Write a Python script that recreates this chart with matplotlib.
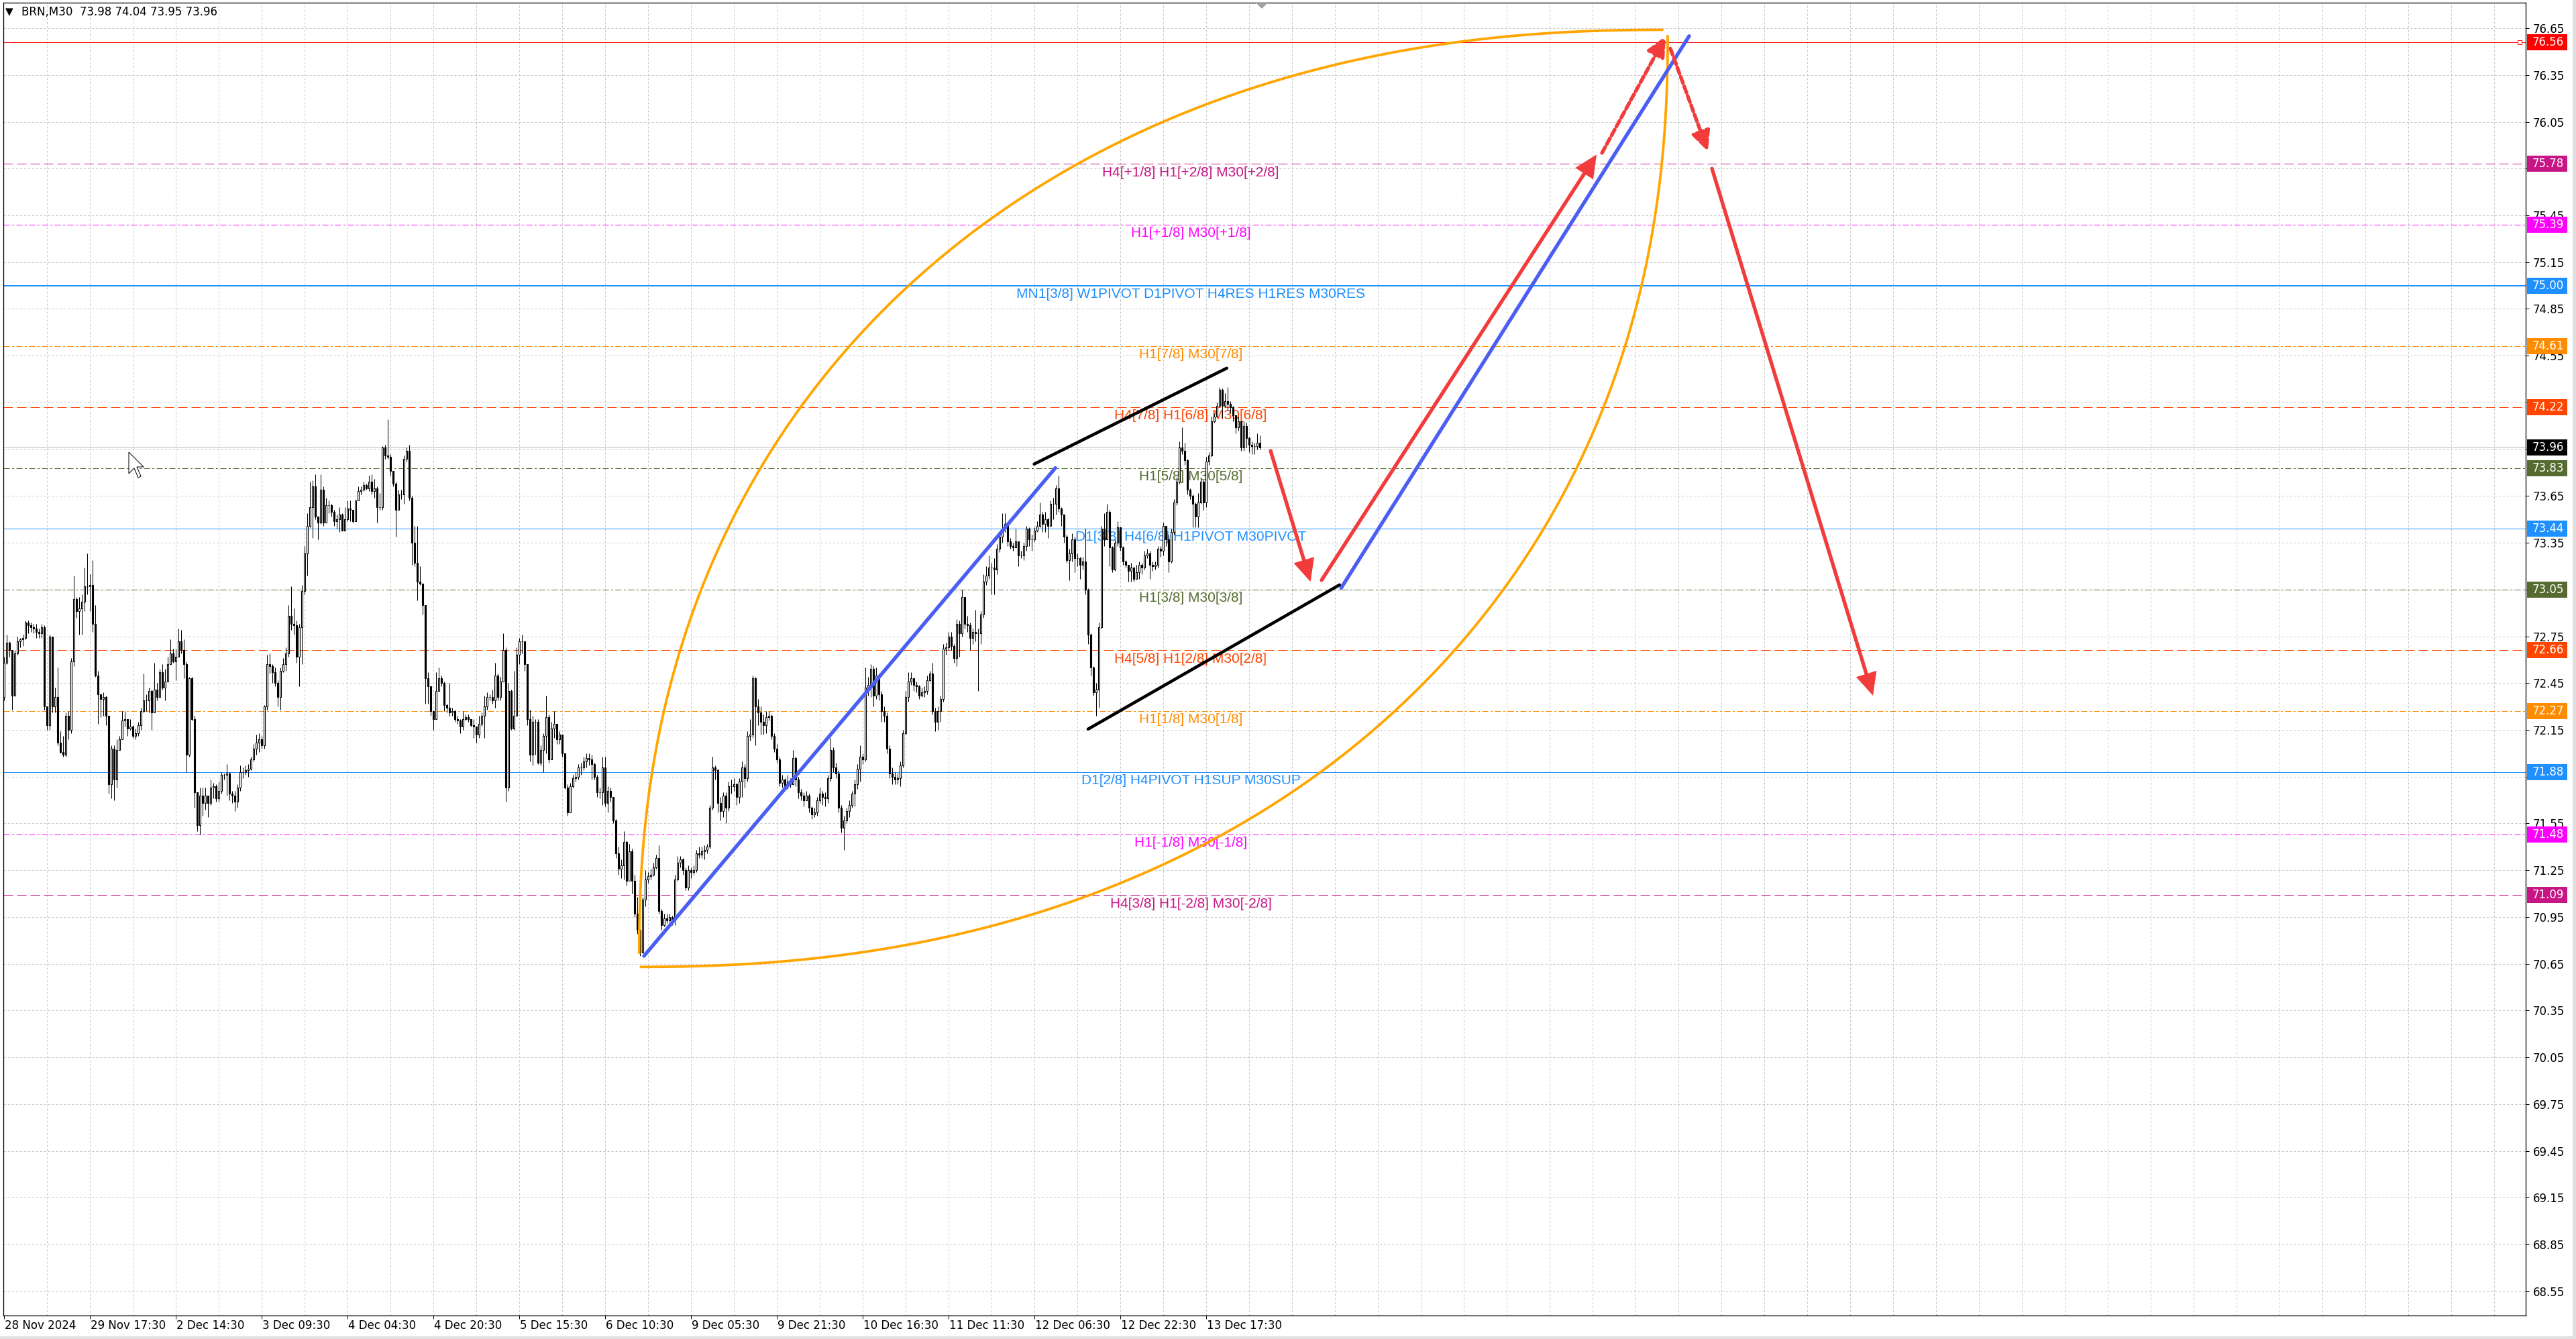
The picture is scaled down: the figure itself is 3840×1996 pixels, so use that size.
import numpy as np
import matplotlib
matplotlib.use("Agg")
import matplotlib.pyplot as plt
import matplotlib.transforms as mtransforms
from matplotlib.patches import Rectangle, Polygon, FancyArrowPatch

W, H, DPI = 3840, 1996, 100
PX = 72.0 / DPI  # points per pixel

plt.rcParams['lines.scale_dashes'] = False
plt.rcParams['font.family'] = ['DejaVu Sans']

# ---------------- data ----------------
header_text = "BRN,M30  73.98 74.04 73.95 73.96"

date_labels = ["28 Nov 2024", "29 Nov 17:30", "2 Dec 14:30", "3 Dec 09:30", "4 Dec 04:30",
               "4 Dec 20:30", "5 Dec 15:30", "6 Dec 10:30", "9 Dec 05:30", "9 Dec 21:30",
               "10 Dec 16:30", "11 Dec 11:30", "12 Dec 06:30", "12 Dec 22:30", "13 Dec 17:30"]

first_open = 72.36
closes = [
    72.58, 72.71, 72.66, 72.37, 72.64, 72.72, 72.73, 72.74, 72.84, 72.82,
    72.81, 72.80, 72.78, 72.77, 72.81, 72.30, 72.18, 72.75, 72.30, 72.36,
    72.07, 72.01, 71.99, 72.24, 72.15, 72.59, 72.99, 72.91, 72.93, 72.97,
    73.07, 73.07, 73.08, 72.83, 72.50, 72.38, 72.35, 72.36, 72.24, 71.80,
    72.03, 71.83, 72.02, 72.09, 72.21, 72.22, 72.16, 72.17, 72.11, 72.13,
    72.18, 72.27, 72.34, 72.34, 72.40, 72.26, 72.41, 72.36, 72.52, 72.42,
    72.46, 72.57, 72.64, 72.59, 72.62, 72.72, 72.66, 72.57, 71.99, 72.48,
    72.22, 71.75, 71.54, 71.73, 71.68, 71.73, 71.68, 71.78, 71.79, 71.71,
    71.76, 71.86, 71.86, 71.87, 71.74, 71.73, 71.69, 71.78, 71.88, 71.88,
    71.89, 71.90, 71.96, 72.03, 72.07, 72.09, 72.05, 72.30, 72.57, 72.56,
    72.52, 72.45, 72.36, 72.53, 72.57, 72.64, 72.88, 72.83, 72.82, 72.62,
    72.81, 73.04, 73.28, 73.46, 73.58, 73.71, 73.52, 73.48, 73.69, 73.48,
    73.59, 73.59, 73.55, 73.49, 73.50, 73.53, 73.43, 73.50, 73.57, 73.56,
    73.49, 73.62, 73.68, 73.69, 73.72, 73.70, 73.74, 73.68, 73.70, 73.58,
    73.58, 73.96, 73.91, 73.90, 73.81, 73.73, 73.56, 73.66, 73.66, 73.89,
    73.94, 73.64, 73.35, 73.22, 73.10, 73.09, 72.95, 72.48, 72.43, 72.27,
    72.22, 72.40, 72.48, 72.45, 72.31, 72.29, 72.26, 72.27, 72.22, 72.21,
    72.17, 72.22, 72.23, 72.22, 72.18, 72.17, 72.12, 72.19, 72.24, 72.30,
    72.36, 72.36, 72.34, 72.50, 72.36, 72.46, 72.66, 71.78, 72.40, 72.16,
    72.24, 72.63, 72.72, 72.72, 72.57, 72.22, 71.99, 72.20,
    72.20, 71.94, 72.02, 72.11, 72.23, 71.96, 72.16, 72.19, 72.09, 72.12,
    72.00, 71.78, 71.62, 71.79, 71.84, 71.85, 71.91, 71.91, 71.95, 71.97,
    71.96, 71.93, 71.85, 71.75, 71.75, 71.91, 71.68, 71.76, 71.72, 71.57,
    71.36, 71.26, 71.28, 71.43, 71.18, 71.37, 71.18, 70.97, 70.87, 70.72,
    71.06, 71.19, 71.21, 71.22, 71.27, 71.33, 70.99, 70.90, 70.94, 70.93,
    70.95, 70.93, 71.19, 71.30, 71.32, 71.25, 71.14, 71.25, 71.24, 71.25,
    71.36, 71.35, 71.37, 71.38, 71.40, 71.65, 71.91, 71.89, 71.68, 71.63,
    71.73, 71.65, 71.79, 71.79, 71.80, 71.72, 71.82, 71.91, 71.84, 72.11,
    72.12, 72.48, 72.30, 72.26, 72.20, 72.18, 72.23, 72.24, 72.11, 72.03,
    71.96, 71.81, 71.83, 71.79, 71.82, 71.80, 71.97, 71.83, 71.75, 71.73,
    71.70, 71.73, 71.65, 71.61, 71.62, 71.70, 71.74, 71.72, 71.71, 71.84,
    72.02, 71.91, 71.87, 71.65, 71.52, 71.57, 71.63, 71.67, 71.74, 71.80,
    71.90, 71.98, 71.96, 72.42, 72.44, 72.54, 72.37, 72.50, 72.38, 72.27,
    72.24, 72.03, 71.87, 71.85, 71.83, 71.84, 71.92, 72.13, 72.36, 72.46,
    72.48, 72.44, 72.43, 72.37, 72.39, 72.40, 72.47, 72.51, 72.27, 72.20,
    72.27, 72.35, 72.67, 72.68, 72.75, 72.69, 72.61, 72.83, 72.77, 73.00,
    72.83, 72.82, 72.74, 72.78, 72.77, 72.77, 72.89, 73.10, 73.14, 73.19,
    73.19, 73.18, 73.31, 73.39, 73.44, 73.47, 73.36, 73.33, 73.32, 73.36,
    73.27,
    73.27, 73.33, 73.44, 73.37, 73.37, 73.43, 73.46, 73.53, 73.47, 73.50,
    73.46, 73.60, 73.60, 73.70, 73.57, 73.53, 73.39, 73.24, 73.28, 73.37,
    73.25, 73.25, 73.21, 73.23, 73.05, 72.76, 72.55, 72.39, 72.41, 72.81,
    73.44, 73.37, 73.55, 73.32, 73.18, 73.35, 73.45, 73.32, 73.23, 73.21,
    73.17, 73.19, 73.12, 73.16, 73.21, 73.19, 73.27, 73.28, 73.21, 73.20,
    73.21, 73.31, 73.30, 73.46, 73.37, 73.23, 73.42, 73.61, 73.74, 73.96,
    73.94, 73.88, 73.69, 73.65, 73.60, 73.52, 73.61, 73.74, 73.61, 73.87,
    73.91, 74.13, 74.16, 74.23, 74.33, 74.23, 74.26, 74.24, 74.22, 74.17,
    74.09, 74.13, 73.96, 74.10, 74.02, 73.98, 73.97, 73.97, 73.99, 73.96,
]
highs = [
    72.62, 72.76, 72.72, 72.57, 72.66, 72.75, 72.74, 72.76, 72.85, 72.85,
    72.84, 72.83, 72.83, 72.80, 72.83, 72.82, 72.30, 72.76, 72.75, 72.42,
    72.55, 72.14, 72.11, 72.26, 72.27, 72.61, 73.14, 73.00, 73.00, 73.02,
    73.19, 73.28, 73.15, 73.24, 72.95, 72.53, 72.38, 72.39, 72.37, 72.24,
    72.05, 72.05, 72.09, 72.11, 72.27, 72.27, 72.19, 72.22, 72.18, 72.16,
    72.20, 72.29, 72.51, 72.38, 72.42, 72.41, 72.58, 72.45, 72.54, 72.57,
    72.54, 72.62, 72.73, 72.67, 72.67, 72.80, 72.79, 72.73, 72.59, 72.49,
    72.49, 72.24, 71.75, 71.78, 71.78, 71.78, 71.71, 71.83, 71.81, 71.80,
    71.82, 71.88, 71.87, 71.93, 71.88, 71.76, 71.76, 71.80, 71.92, 71.91,
    71.92, 71.93, 71.98, 72.06, 72.12, 72.13, 72.11, 72.31, 72.63, 72.64,
    72.57, 72.55, 72.47, 72.55, 72.61, 72.68, 72.95, 73.07, 72.93, 72.85,
    72.83, 73.08, 73.33, 73.54, 73.74, 73.75, 73.79, 73.52, 73.79, 73.71,
    73.64, 73.62, 73.60, 73.56, 73.53, 73.58, 73.54, 73.58, 73.62, 73.62,
    73.56, 73.62, 73.71, 73.71, 73.74, 73.73, 73.78, 73.79, 73.76, 73.71,
    73.67, 73.97, 73.98, 74.14, 73.92, 73.76, 73.74, 73.69, 73.69, 73.91,
    73.96, 73.98, 73.65, 73.46, 73.46, 73.20, 73.09, 72.95, 72.52, 72.43,
    72.25, 72.52, 72.55, 72.50, 72.46, 72.32, 72.45, 72.29, 72.28, 72.24,
    72.22, 72.27, 72.25, 72.25, 72.22, 72.22, 72.17, 72.24, 72.26, 72.37,
    72.39, 72.38, 72.41, 72.58, 72.51, 72.49, 72.77, 72.68, 72.45, 72.41,
    72.53, 72.68, 72.74, 72.76, 72.72, 72.51, 72.28, 72.24,
    72.22, 72.22, 72.05, 72.13, 72.37, 72.25, 72.20, 72.27, 72.14, 72.14,
    72.12, 72.00, 71.80, 71.81, 71.86, 71.88, 71.93, 71.94, 71.98, 72.00,
    72.00, 71.99, 71.94, 71.86, 71.78, 71.98, 71.98, 71.79, 71.78, 71.69,
    71.58, 71.40, 71.32, 71.50, 71.44, 71.42, 71.39, 71.22, 71.08, 70.97,
    71.08, 71.25, 71.24, 71.26, 71.30, 71.35, 71.41, 71.00, 70.97, 70.97,
    70.97, 70.96, 71.22, 71.34, 71.34, 71.33, 71.27, 71.28, 71.27, 71.28,
    71.38, 71.40, 71.40, 71.41, 71.42, 71.67, 71.98, 71.92, 71.90, 71.72,
    71.75, 71.75, 71.82, 71.83, 71.84, 71.81, 71.84, 71.95, 71.93, 72.14,
    72.22, 72.50, 72.49, 72.35, 72.30, 72.25, 72.27, 72.27, 72.25, 72.13,
    72.06, 71.98, 71.86, 71.84, 71.86, 71.84, 72.02, 71.98, 71.85, 71.77,
    71.75, 71.76, 71.74, 71.66, 71.65, 71.72, 71.78, 71.76, 71.75, 71.86,
    72.10, 72.04, 71.94, 71.89, 71.67, 71.60, 71.65, 71.70, 71.76, 71.83,
    71.93, 72.05, 72.00, 72.55, 72.49, 72.57, 72.56, 72.55, 72.51, 72.40,
    72.30, 72.26, 72.05, 71.91, 71.88, 71.87, 71.95, 72.15, 72.40, 72.52,
    72.52, 72.48, 72.46, 72.44, 72.42, 72.43, 72.50, 72.53, 72.58, 72.29,
    72.30, 72.37, 72.70, 72.71, 72.78, 72.78, 72.70, 72.86, 72.85, 73.05,
    73.00, 72.88, 72.84, 72.80, 72.92, 72.80, 72.91, 73.15, 73.20, 73.27,
    73.22, 73.25, 73.34, 73.42, 73.54, 73.54, 73.47, 73.38, 73.35, 73.44,
    73.35,
    73.30, 73.35, 73.46, 73.45, 73.40, 73.45, 73.49, 73.61, 73.55, 73.55,
    73.51, 73.62, 73.64, 73.72, 73.78, 73.58, 73.53, 73.40, 73.31, 73.41,
    73.39, 73.28, 73.26, 73.26, 73.44, 73.06, 72.77, 72.56, 72.45, 72.84,
    73.46, 73.54, 73.60, 73.56, 73.33, 73.37, 73.49, 73.45, 73.33, 73.24,
    73.20, 73.22, 73.19, 73.21, 73.23, 73.22, 73.30, 73.31, 73.30, 73.23,
    73.23, 73.33, 73.33, 73.48, 73.46, 73.40, 73.44, 73.63, 73.77, 74.00,
    74.09, 73.99, 73.89, 73.70, 73.66, 73.61, 73.67, 73.76, 73.75, 73.90,
    73.93, 74.16, 74.18, 74.25, 74.35, 74.34, 74.31, 74.35, 74.26, 74.23,
    74.17, 74.16, 74.12, 74.13, 74.12, 74.03, 74.00, 73.99, 74.05, 74.04,
]
lows = [
    72.34, 72.57, 72.62, 72.28, 72.53, 72.63, 72.68, 72.69, 72.73, 72.77,
    72.78, 72.77, 72.74, 72.74, 72.74, 72.28, 72.15, 72.15, 72.26, 72.26,
    72.05, 72.00, 71.98, 71.98, 72.09, 72.13, 72.56, 72.87, 72.76, 72.76,
    72.91, 73.02, 72.91, 72.78, 72.49, 72.19, 72.23, 72.24, 72.18, 71.74,
    71.71, 71.70, 71.78, 72.02, 72.11, 72.17, 72.11, 72.15, 72.10, 72.09,
    72.11, 72.15, 72.26, 72.27, 72.26, 72.15, 72.35, 72.34, 72.42, 72.41,
    72.34, 72.48, 72.57, 72.58, 72.47, 72.66, 72.64, 72.48, 71.88, 71.98,
    72.21, 71.65, 71.50, 71.48, 71.60, 71.64, 71.59, 71.67, 71.71, 71.69,
    71.69, 71.74, 71.83, 71.73, 71.70, 71.68, 71.63, 71.65, 71.76, 71.84,
    71.86, 71.85, 71.89, 71.95, 71.99, 72.01, 72.03, 72.03, 72.28, 72.51,
    72.45, 72.43, 72.30, 72.28, 72.52, 72.53, 72.62, 72.79, 72.76, 72.58,
    72.43, 72.57, 73.02, 73.14, 73.45, 73.38, 73.50, 73.37, 73.47, 73.46,
    73.49, 73.54, 73.52, 73.46, 73.44, 73.42, 73.43, 73.45, 73.49, 73.49,
    73.48, 73.53, 73.65, 73.66, 73.68, 73.69, 73.68, 73.66, 73.64, 73.48,
    73.56, 73.56, 73.89, 73.89, 73.78, 73.71, 73.39, 73.56, 73.63, 73.60,
    73.87, 73.62, 73.21, 73.20, 72.98, 73.08, 72.89, 72.32, 72.32, 72.24,
    72.15, 72.25, 72.41, 72.43, 72.27, 72.26, 72.24, 72.24, 72.20, 72.19,
    72.13, 72.15, 72.21, 72.20, 72.17, 72.10, 72.07, 72.10, 72.17, 72.10,
    72.28, 72.34, 72.32, 72.29, 72.34, 72.34, 72.46, 71.69, 71.76, 72.15,
    72.15, 72.28, 72.57, 72.64, 72.53, 72.18, 71.95, 71.92,
    71.99, 71.93, 71.92, 71.88, 72.00, 71.94, 71.96, 72.10, 72.06, 72.06,
    71.98, 71.77, 71.60, 71.62, 71.78, 71.82, 71.83, 71.86, 71.89, 71.91,
    71.92, 71.83, 71.83, 71.72, 71.71, 71.67, 71.66, 71.62, 71.69, 71.55,
    71.33, 71.22, 71.20, 71.19, 71.15, 71.18, 71.10, 70.95, 70.84, 70.70,
    70.74, 71.02, 71.17, 71.19, 71.21, 71.26, 70.97, 70.87, 70.89, 70.91,
    70.92, 70.90, 70.90, 71.18, 71.27, 71.22, 71.12, 71.12, 71.20, 71.22,
    71.24, 71.33, 71.33, 71.32, 71.36, 71.39, 71.64, 71.83, 71.62, 71.57,
    71.59, 71.55, 71.63, 71.74, 71.76, 71.67, 71.68, 71.72, 71.78, 71.82,
    72.08, 72.10, 72.05, 72.18, 72.12, 72.12, 72.13, 72.21, 72.09, 72.01,
    71.94, 71.79, 71.78, 71.77, 71.77, 71.78, 71.80, 71.79, 71.71, 71.70,
    71.66, 71.70, 71.62, 71.58, 71.59, 71.60, 71.68, 71.67, 71.66, 71.68,
    71.82, 71.88, 71.84, 71.62, 71.49, 71.38, 71.55, 71.59, 71.65, 71.66,
    71.77, 71.82, 71.93, 71.95, 72.37, 72.36, 72.30, 72.35, 72.34, 72.20,
    72.20, 72.00, 71.84, 71.80, 71.80, 71.80, 71.79, 71.91, 72.12, 72.33,
    72.44, 72.40, 72.39, 72.35, 72.36, 72.36, 72.38, 72.46, 72.25, 72.14,
    72.15, 72.20, 72.33, 72.63, 72.66, 72.66, 72.58, 72.56, 72.62, 72.75,
    72.80, 72.78, 72.66, 72.70, 72.72, 72.40, 72.70, 72.87, 73.08, 73.12,
    73.02, 73.02, 73.15, 73.29, 73.35, 73.42, 73.33, 73.31, 73.30, 73.33,
    73.20,
    73.25, 73.24, 73.30, 73.33, 73.30, 73.36, 73.42, 73.45, 73.42, 73.42,
    73.38, 73.46, 73.50, 73.53, 73.55, 73.46, 73.35, 73.22, 73.11, 73.23,
    73.16, 73.20, 73.12, 73.18, 73.02, 72.70, 72.50, 72.37, 72.24, 72.29,
    72.80, 73.33, 73.38, 73.20, 73.16, 73.17, 73.33, 73.30, 73.21, 73.19,
    73.10, 73.10, 73.10, 73.12, 73.12, 73.15, 73.18, 73.25, 73.12, 73.17,
    73.18, 73.19, 73.26, 73.27, 73.33, 73.16, 73.22, 73.40, 73.59, 73.73,
    73.92, 73.85, 73.66, 73.63, 73.45, 73.45, 73.45, 73.60, 73.56, 73.58,
    73.85, 73.90, 74.12, 74.16, 74.22, 74.15, 74.22, 74.20, 74.18, 74.13,
    74.05, 74.07, 73.94, 73.94, 73.96, 73.93, 73.92, 73.92, 73.95, 73.95,
]

# Murrey / pivot levels
level_prices = [75.78, 75.39, 75.00, 74.61, 74.22, 73.83, 73.44, 73.05, 72.66, 72.27, 71.88, 71.48, 71.09]
level_labels = ["H4[+1/8] H1[+2/8] M30[+2/8]", "H1[+1/8] M30[+1/8]",
                "MN1[3/8] W1PIVOT D1PIVOT H4RES H1RES M30RES", "H1[7/8] M30[7/8]",
                "H4[7/8] H1[6/8] M30[6/8]", "H1[5/8] M30[5/8]",
                "D1[3/8] H4[6/8] H1PIVOT M30PIVOT", "H1[3/8] M30[3/8]",
                "H4[5/8] H1[2/8] M30[2/8]", "H1[1/8] M30[1/8]",
                "D1[2/8] H4PIVOT H1SUP M30SUP", "H1[-1/8] M30[-1/8]",
                "H4[3/8] H1[-2/8] M30[-2/8]"]
level_colors = ['#C71585', '#FF00FF', '#1E90FF', '#FF8C00', '#FF4500', '#556B2F', '#1E90FF',
                '#556B2F', '#FF4500', '#FF8C00', '#1E90FF', '#FF00FF', '#C71585']
level_styles = ['dash', 'dashdot', 'thick', 'dashdot', 'dash', 'dashdot', 'solid',
                'dashdot', 'dash', 'dashdot', 'solid', 'dashdot', 'dash']

high_line_price = 76.56
current_price = 73.96

box_prices = [76.56, 75.78, 75.39, 75.00, 74.61, 74.22, 73.96, 73.83, 73.44, 73.05, 72.66, 72.27, 71.88, 71.48, 71.09]
box_colors = ['#FF0000', '#C71585', '#FF00FF', '#1E90FF', '#FF8C00', '#FF4500', '#000000', '#556B2F',
              '#1E90FF', '#556B2F', '#FF4500', '#FF8C00', '#1E90FF', '#FF00FF', '#C71585']

# drawn objects (bar index, price)
blue_line_1 = [(238.5, 70.70), (391.8, 73.83)]
blue_line_2 = [(498.3, 73.06), (628.0, 76.60)]
black_line_1 = [(383.9, 73.855), (455.7, 74.47)]
black_line_2 = [(404.0, 72.155), (497.7, 73.08)]
red_arrows_solid = [[(472.0, 73.94), (486.9, 73.10)],
                    [(491.0, 73.11), (593.5, 75.84)],
                    [(636.5, 75.75), (696.5, 72.37)]]
red_arrows_dashed = [[(595.5, 75.85), (619.3, 76.60)],
                     [(621.0, 76.52), (635.0, 75.86)]]
arc_upper = dict(start=(236.7, 70.72), end=(618.0, 76.64))
arc_lower = dict(start=(237.3, 70.63), end=(620.0, 76.60))

n = min(len(closes), len(highs), len(lows))
c = np.array(closes[:n])
o = np.concatenate([[first_open], c[:-1]])
hi = np.maximum(np.array(highs[:n]), np.maximum(o, c))
lo = np.minimum(np.array(lows[:n]), np.minimum(o, c))
x = np.arange(n)

# ---------------- figure ----------------
fig = plt.figure(figsize=(W / DPI, H / DPI), dpi=DPI, facecolor='white')
AX_L, AX_R, AX_T, AX_B = 5, 3765, 4, 1961
YMIN, YMAX = 68.394, 76.814
ax = fig.add_axes([AX_L / W, 1 - AX_B / H, (AX_R - AX_L) / W, (AX_B - AX_T) / H])
ax.set_xlim(-0.25, 939.75)
ax.set_ylim(YMIN, YMAX)
ax.set_facecolor('white')
for s in ax.spines.values():
    s.set_color('black')
    s.set_linewidth(1.3 * PX)

# grid
price_ticks = np.round(np.arange(68.55, 76.651, 0.30), 2)
grid_kw = dict(color='#C4C4C4', lw=PX, ls=(0, (3 * PX, 3 * PX)), zorder=0.5)
for p in price_ticks:
    ax.axhline(p, **grid_kw)
for b in range(16, 941, 16):
    ax.axvline(b, **grid_kw)

# axes ticks (labels that sit fully under a level box are hidden, as in the terminal)
ax.yaxis.tick_right()
ax.set_yticks(price_ticks)
tick_labels = []
for v in price_ticks:
    covered = any(abs(v - bp) < 0.035 for bp in box_prices)
    tick_labels.append('' if covered else f'{v:.2f}')
ax.set_yticklabels(tick_labels)
ax.tick_params(axis='y', direction='out', length=5 * PX, width=PX, pad=6 * PX,
               labelsize=12, colors='black')
xt = np.arange(0, 32 * len(date_labels), 32)
ax.set_xticks(xt)
ax.set_xticklabels([])
ax.tick_params(axis='x', direction='out', length=5 * PX, width=PX)

tx = mtransforms.blended_transform_factory(ax.transData, ax.transAxes)
off_x = mtransforms.ScaledTranslation(1 / DPI, -6 / DPI, fig.dpi_scale_trans)
for i, lab in enumerate(date_labels):
    ax.text(xt[i], 0, lab, transform=tx + off_x, ha='left', va='top',
            fontsize=12, color='black', clip_on=False)

# level lines
style_map = {
    'dash': dict(lw=PX, ls=(0, (14 * PX, 6 * PX))),
    'dashdot': dict(lw=PX, ls=(0, (9 * PX, 3.5 * PX, 3 * PX, 3.5 * PX))),
    'solid': dict(lw=PX, ls='-'),
    'thick': dict(lw=2 * PX, ls='-'),
}
label_x = 442.25
for p, lab, col, st in zip(level_prices, level_labels, level_colors, level_styles):
    ax.axhline(p, color=col, zorder=1.5, **style_map[st])
    ax.annotate(lab, xy=(label_x, p), xytext=(0, -12.7 * PX), textcoords='offset points',
                ha='center', va='center', color=col, fontsize=15,
                family=['Liberation Sans', 'DejaVu Sans'], zorder=2)

ax.axhline(high_line_price, color='#FF0000', lw=PX, zorder=1.6)
ax.plot([937.5], [high_line_price], marker='s', ms=5.5 * PX, mfc='white',
        mec='#FF0000', mew=PX, zorder=1.7, clip_on=False)
ax.axhline(current_price, color='#C0C0C0', lw=PX, zorder=1.6)

# candles
ax.vlines(x, lo, hi, color='black', lw=1.05 * PX, zorder=3)
up = c >= o
ax.bar(x[up], (c - o)[up], bottom=o[up], width=0.55, facecolor='white',
       edgecolor='black', lw=1.1 * PX, zorder=4)
ax.bar(x[~up], (o - c)[~up], bottom=c[~up], width=0.55, facecolor='black',
       edgecolor='black', lw=1.1 * PX, zorder=4)

# orange arcs (superellipse quarter curves)
nexp = 2.2
t = np.linspace(0, np.pi / 2, 400)
(sx, sy), (ex, ey) = arc_upper['start'], arc_upper['end']
ux = ex - (ex - sx) * np.cos(t) ** (2 / nexp)
uy = sy + (ey - sy) * np.sin(t) ** (2 / nexp)
ax.plot(ux, uy, color='#FFA500', lw=3.8 * PX, zorder=5, solid_capstyle='round')
(sx, sy), (ex, ey) = arc_lower['start'], arc_lower['end']
lx = sx + (ex - sx) * np.sin(t) ** (2 / nexp)
ly = ey - (ey - sy) * np.cos(t) ** (2 / nexp)
ax.plot(lx, ly, color='#FFA500', lw=3.8 * PX, zorder=5, solid_capstyle='round')

# trend lines
for seg, col, lw in [(blue_line_1, '#4A5FF2', 5.4), (blue_line_2, '#4A5FF2', 5.4),
                     (black_line_1, 'black', 4.6), (black_line_2, 'black', 4.6)]:
    ax.plot([seg[0][0], seg[1][0]], [seg[0][1], seg[1][1]], color=col, lw=lw * PX,
            solid_capstyle='round', zorder=6)

# arrows
red = '#F23C3C'
astyle = '-|>,head_length=0.85,head_width=0.4'
for a, b in red_arrows_solid:
    ax.add_patch(FancyArrowPatch(a, b, arrowstyle=astyle, mutation_scale=21,
                                 color=red, lw=5.4 * PX, shrinkA=0, shrinkB=0, zorder=7,
                                 capstyle='round', joinstyle='miter'))
for a, b in red_arrows_dashed:
    ax.add_patch(FancyArrowPatch(a, b, arrowstyle=astyle, mutation_scale=21,
                                 color=red, lw=5.4 * PX, ls=(0, (10 * PX, 5 * PX)),
                                 shrinkA=0, shrinkB=0, zorder=7))

# right axis label boxes
ty = mtransforms.blended_transform_factory(ax.transAxes, ax.transData)
ax_w = AX_R - AX_L
box_h = 24 / ((AX_B - AX_T) / (YMAX - YMIN))
for p, col in zip(box_prices, box_colors):
    ax.add_patch(Rectangle(((3767 - AX_L) / ax_w, p - box_h / 2), 60 / ax_w, box_h,
                           transform=ty, facecolor=col, edgecolor='none',
                           clip_on=False, zorder=8))
    ax.text((3775 - AX_L) / ax_w, p, f'{p:.2f}', transform=ty, ha='left', va='center',
            fontsize=12, color='white', clip_on=False, zorder=9)

# header
fig.text(8 / W, 1 - 18 / H, '\u25BC', fontsize=11, color='black', va='center', ha='left')
fig.text(32 / W, 1 - 18 / H, header_text, fontsize=12, color='black', va='center', ha='left')

# chart shift marker and mouse cursor (pixel coordinates)
idt = mtransforms.IdentityTransform()
fig.patches.append(Polygon([(1873, H - 4), (1889, H - 4), (1881, H - 12)], closed=True,
                           transform=idt, facecolor='#A0A0A0', edgecolor='#A0A0A0',
                           figure=fig))
cur = np.array([(0, 0), (0, 16), (4, 12), (7, 19), (9, 18), (6, 11), (11, 11)], float) * 2.0
cur_pts = np.column_stack([192 + cur[:, 0], (H - 674) - cur[:, 1]])
fig.patches.append(Polygon(cur_pts, closed=True, transform=idt, facecolor='white',
                           edgecolor='black', lw=PX, figure=fig, zorder=10))

# outer window border
fig.patches.append(Rectangle((0, 0), W, 4, transform=idt, facecolor='#E0E0E0',
                             edgecolor='none', figure=fig))
fig.patches.append(Rectangle((W - 5, 0), 5, H, transform=idt, facecolor='#E0E0E0',
                             edgecolor='none', figure=fig))

fig.savefig('out.png', dpi=DPI, facecolor='white')
